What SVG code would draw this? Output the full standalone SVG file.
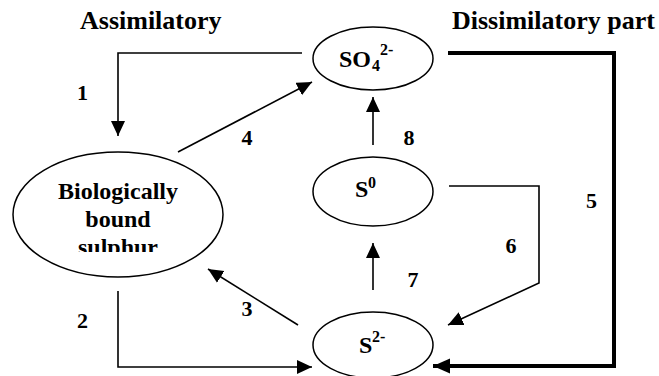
<svg xmlns="http://www.w3.org/2000/svg" width="659" height="376" viewBox="0 0 659 376">
<defs>
  <marker id="ah" markerUnits="userSpaceOnUse" markerWidth="16" markerHeight="16" refX="15" refY="7" orient="auto">
    <path d="M0,0 L15,7 L0,14 z" fill="#000"/>
  </marker>
  <marker id="ahT" markerUnits="userSpaceOnUse" markerWidth="18" markerHeight="16" refX="17" refY="7.5" orient="auto">
    <path d="M0,0 L17,7.5 L0,15 z" fill="#000"/>
  </marker>
  <clipPath id="bioClip"><rect x="0" y="150" width="240" height="102"/></clipPath>
</defs>
<rect width="659" height="376" fill="#fff"/>

<text x="80" y="29" font-family="Liberation Serif" font-weight="bold" font-size="26">Assimilatory</text>
<text x="452" y="29" font-family="Liberation Serif" font-weight="bold" font-size="26">Dissimilatory part</text>

<g id="connectors" fill="none" stroke="#000" stroke-width="1.6">
  <polyline id="c1" points="302,53 118,53 118,136" marker-end="url(#ah)"/>
  <line id="c4" x1="178" y1="152" x2="312" y2="82" marker-end="url(#ah)"/>
  <polyline id="c2" points="118,291 118,367 312,367" marker-end="url(#ah)"/>
  <line id="c3" x1="298" y1="325" x2="208" y2="269" marker-end="url(#ah)"/>
  <line id="c8" x1="373" y1="145" x2="373" y2="97" marker-end="url(#ah)"/>
  <line id="c7" x1="373" y1="290" x2="373" y2="243" marker-end="url(#ah)"/>
  <polyline id="c6" points="449,186 539,186 539,283 448,325" marker-end="url(#ah)"/>
  <polyline id="c5" stroke-width="4" points="448,53 614,53 614,366 433,366" marker-end="url(#ahT)"/>
</g>
<g id="labels" fill="#000" stroke="none">
  <text x="82.5" y="100" font-family="Liberation Serif" font-weight="bold" font-size="22" text-anchor="middle">1</text>
  <text x="82.5" y="328" font-family="Liberation Serif" font-weight="bold" font-size="22" text-anchor="middle">2</text>
  <text x="247" y="316" font-family="Liberation Serif" font-weight="bold" font-size="22" text-anchor="middle">3</text>
  <text x="247" y="145" font-family="Liberation Serif" font-weight="bold" font-size="22" text-anchor="middle">4</text>
  <text x="591.5" y="208" font-family="Liberation Serif" font-weight="bold" font-size="22" text-anchor="middle">5</text>
  <text x="511" y="253" font-family="Liberation Serif" font-weight="bold" font-size="22" text-anchor="middle">6</text>
  <text x="413" y="287" font-family="Liberation Serif" font-weight="bold" font-size="22" text-anchor="middle">7</text>
  <text x="409" y="145" font-family="Liberation Serif" font-weight="bold" font-size="22" text-anchor="middle">8</text>
</g>

<g id="bio">
  <ellipse cx="118" cy="214.5" rx="105" ry="62.5" fill="#fff" stroke="#000" stroke-width="1.5"/>
  <g clip-path="url(#bioClip)">
    <text x="118" y="199" font-family="Liberation Serif" font-weight="bold" font-size="24" text-anchor="middle">Biologically</text>
    <text x="118" y="227" font-family="Liberation Serif" font-weight="bold" font-size="24" text-anchor="middle">bound</text>
    <text x="118" y="255" font-family="Liberation Serif" font-weight="bold" font-size="24" text-anchor="middle">sulphur</text>
  </g>
</g>

<g id="so4">
  <ellipse cx="373" cy="58.5" rx="60" ry="31.5" fill="#fff" stroke="#000" stroke-width="1.5"/>
  <text x="339" y="67" font-family="Liberation Serif" font-weight="bold" font-size="24">SO</text>
  <text x="372" y="71" font-family="Liberation Serif" font-weight="bold" font-size="16">4</text>
  <text x="380" y="55" font-family="Liberation Serif" font-weight="bold" font-size="16">2-</text>
</g>

<g id="s0">
  <ellipse cx="373" cy="191.5" rx="60" ry="34.5" fill="#fff" stroke="#000" stroke-width="1.5"/>
  <text x="355" y="197" font-family="Liberation Serif" font-weight="bold" font-size="24">S</text>
  <text x="368" y="188" font-family="Liberation Serif" font-weight="bold" font-size="16">0</text>
</g>

<g id="s2">
  <ellipse cx="373" cy="345" rx="60" ry="33" fill="#fff" stroke="#000" stroke-width="1.5"/>
  <text x="359" y="353" font-family="Liberation Serif" font-weight="bold" font-size="24">S</text>
  <text x="372" y="342" font-family="Liberation Serif" font-weight="bold" font-size="16">2-</text>
</g>
</svg>
